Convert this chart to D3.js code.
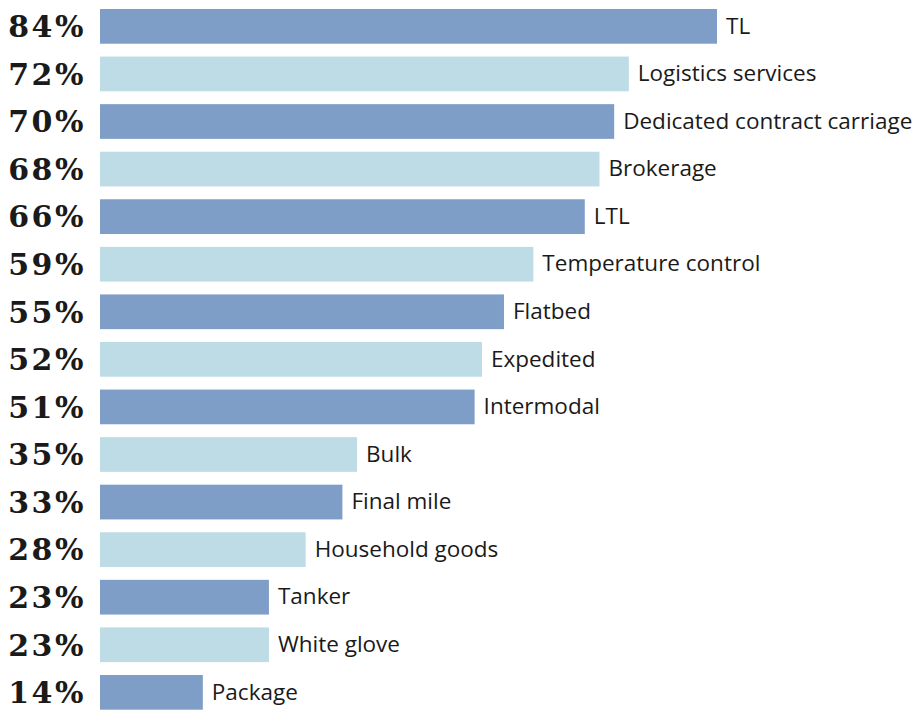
<!DOCTYPE html>
<html>
<head>
<meta charset="utf-8">
<script src="https://cdn.jsdelivr.net/npm/d3@7"></script>
<style>
  body { margin: 0; background: #fff; }
  .pct { font-family: "DejaVu Serif", serif; font-weight: bold; font-size: 30px; letter-spacing: 2.5px; fill: #1a1a1a; }
  .cat { font-family: "Open Sans", sans-serif; font-size: 22.5px; fill: #1a1a1a; }
</style>
</head>
<body>
<svg id="chart" width="917" height="710"></svg>
<script>
var categories = ["TL", "Logistics services", "Dedicated contract carriage", "Brokerage", "LTL",
  "Temperature control", "Flatbed", "Expedited", "Intermodal", "Bulk", "Final mile",
  "Household goods", "Tanker", "White glove", "Package"];
var values = [84, 72, 70, 68, 66, 59, 55, 52, 51, 35, 33, 28, 23, 23, 14];
var colors = ["#7f9ec7", "#bddce6"];

var data = categories.map(function (c, i) {
  return { cat: c, value: values[i], idx: i };
});

var svg = d3.select("#chart");

var x = d3.scaleLinear() // bar length, percent
  .domain([0, 84])
  .range([100, 717]);

var y = d3.scaleBand()
  .domain(d3.range(data.length))
  .range([9, 709.7])
  .paddingInner(0.27)
  .paddingOuter(0);

svg.append("g").selectAll("rect")
  .data(data)
  .enter().append("rect")
  .attr("x", x(0))
  .attr("y", function (d) { return y(d.idx); })
  .attr("width", function (d) { return x(d.value) - x(0); })
  .attr("height", y.bandwidth())
  .attr("fill", function (d) { return colors[d.idx % 2]; });

// percent labels on the left
svg.append("g").selectAll("text")
  .data(data)
  .enter().append("text")
  .attr("class", "pct")
  .attr("x", 86)
  .attr("y", function (d) { return y(d.idx) + y.bandwidth() / 2; })
  .attr("dy", ".36em")
  .attr("text-anchor", "end")
  .text(function (d) { return d.value + "%"; });

// category labels after each bar
svg.append("g").selectAll("text")
  .data(data)
  .enter().append("text")
  .attr("class", "cat")
  .attr("x", function (d) { return x(d.value) + 9; })
  .attr("y", function (d) { return y(d.idx) + y.bandwidth() / 2; })
  .attr("dy", ".32em")
  .text(function (d) { return d.cat; });
</script>
</body>
</html>
